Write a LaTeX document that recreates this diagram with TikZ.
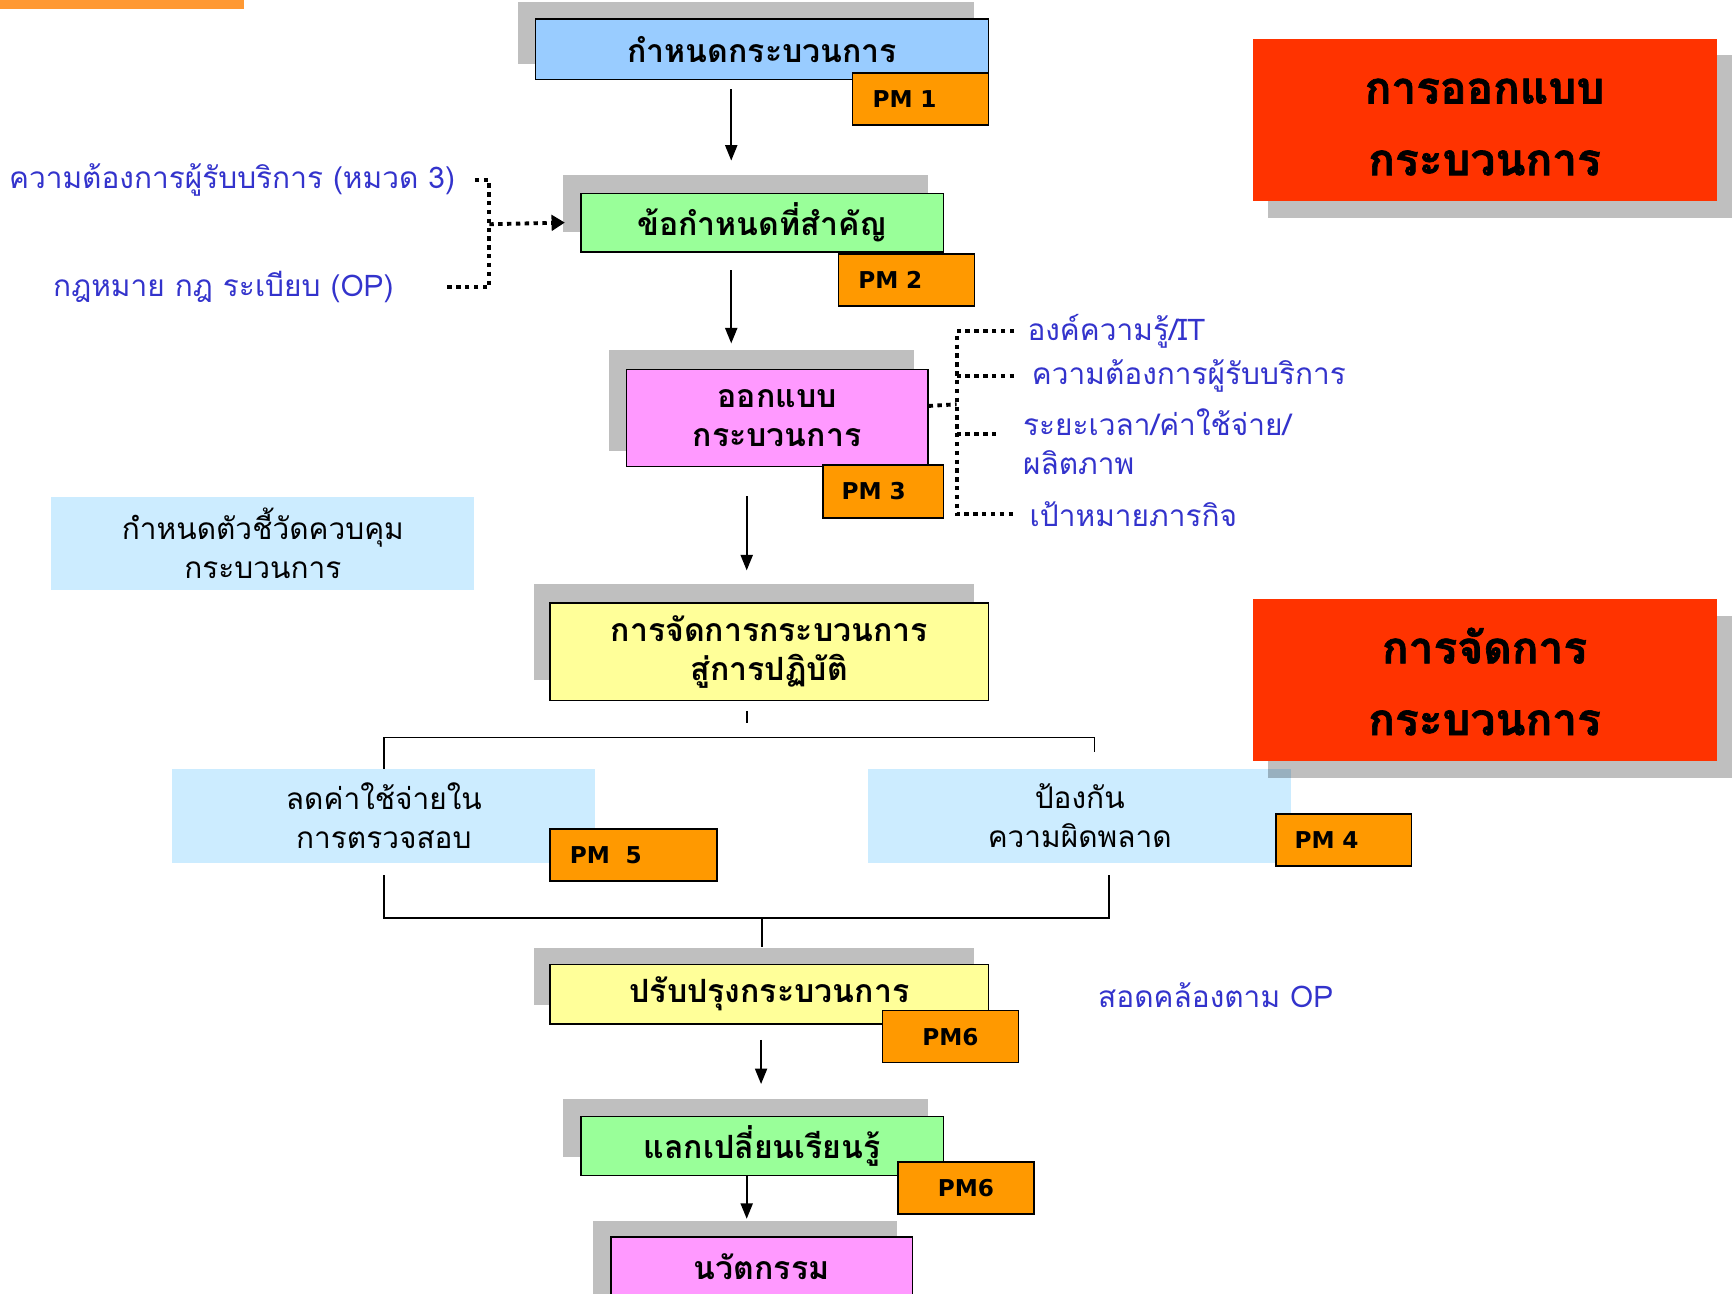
\documentclass[tikz,border=0pt]{standalone}
\usepackage{fontspec}
\usetikzlibrary{arrows.meta}
\newfontfamily\thai[Script=Thai]{Loma}
\newfontfamily\thaiheavy[Script=Thai, BoldFeatures={FakeBold=1.5}]{Loma}
\newfontfamily\pmf{DejaVu Sans}
\definecolor{pmor}{RGB}{255,153,0}
\definecolor{lblue}{RGB}{153,204,255}
\definecolor{lgreen}{RGB}{153,255,153}
\definecolor{lpink}{RGB}{255,153,255}
\definecolor{lyellow}{RGB}{255,255,153}
\definecolor{pale}{RGB}{204,236,255}
\definecolor{redb}{RGB}{255,51,0}
\definecolor{txtblue}{RGB}{51,51,204}
\definecolor{topor}{RGB}{255,153,51}
\begin{document}
\begin{tikzpicture}[x=1pt,y=-1pt,
  stepbox/.style={draw=black, line width=1.3pt, inner sep=0pt, align=center,
    font=\thai\bfseries\fontsize{29}{35}\selectfont},
  pmbox/.style={draw=black, line width=1.3pt, fill=pmor, inner ysep=0pt, inner xsep=18pt,
    text width=87pt, align=left, minimum height=47pt, font=\pmf\bfseries\fontsize{21}{25}\selectfont},
  palebox/.style={fill=pale, inner sep=0pt, align=center, minimum width=383pt, minimum height=85pt,
    font=\thai\fontsize{27}{35}\selectfont},
  redtxt/.style={inner sep=0pt, align=center,
    font=\thaiheavy\bfseries\fontsize{40}{65}\selectfont},
  bluetxt/.style={text=txtblue, inner sep=0pt, anchor=west, align=left,
    font=\thai\fontsize{27}{35}\selectfont},
  shadowfill/.style={fill=black, fill opacity=0.25},
  conn/.style={line width=1.5pt, -{Triangle[length=14pt,width=11pt]}},
  dotl/.style={line width=3.5pt, dash pattern=on 4pt off 4pt},
  brk/.style={line width=1.5pt},
]
\clip (0,0) rectangle (1568,1171);
\fill[white] (0,0) rectangle (1568,1171);
\fill[topor] (0,0) rectangle (221,8);

% ---- pale boxes (drawn first, may be under shadows)
\node[palebox] (m) at (238,492) {กำหนดตัวชี้วัดควบคุม\\กระบวนการ};
\node[palebox] (l1) at (347.5,738.5) {ลดค่าใช้จ่ายใน\\การตรวจสอบ};
\node[palebox] (r1) at (977.5,738.5) {ป้องกัน\\ความผิดพลาด};

% ---- red title boxes
\fill[shadowfill] (1148,50) rectangle (1568,197);
\fill[redb] (1134,35) rectangle (1554,182);
\node[redtxt] (rd1) at (1344,115) {การออกแบบ\\กระบวนการ};
\fill[shadowfill] (1148,558) rectangle (1568,704);
\fill[redb] (1134,542) rectangle (1554,689);
\node[redtxt] (rd2) at (1344,617) {การจัดการ\\กระบวนการ};

% ---- step boxes with shadows
\fill[shadowfill] (469,2) rectangle (882,58);
\node[stepbox, fill=lblue, minimum width=410pt, minimum height=55pt] (b1) at (690,44.5) {กำหนดกระบวนการ};
\node[pmbox] (p1) at (833.5,89.5) {PM 1};

\fill[shadowfill] (510,158) rectangle (840,210);
\node[stepbox, fill=lgreen, minimum width=328pt, minimum height=53pt] (b2) at (690,201.5) {ข้อกำหนดที่สำคัญ};
\node[pmbox] (p2) at (820.5,253.5) {PM 2};

\fill[shadowfill] (551,317) rectangle (827,408);
\node[stepbox, fill=lpink, minimum width=273pt, minimum height=88pt] (b3) at (703.5,378.5) {ออกแบบ\\กระบวนการ};
\node[pmbox, text width=75pt, inner xsep=17pt, minimum height=48pt] (p3) at (799.5,445) {PM 3};

\fill[shadowfill] (483,529) rectangle (882,616);
\node[stepbox, fill=lyellow, minimum width=397pt, minimum height=88pt] (b4) at (696.5,590) {การจัดการกระบวนการ\\สู่การปฏิบัติ};

\node[pmbox, text width=115pt] (p5) at (573.5,774) {PM\ \ 5};
\node[pmbox, inner xsep=17pt, text width=89pt] (p4) at (1216.5,760.5) {PM 4};

\fill[shadowfill] (483,858) rectangle (882,910);
\node[stepbox, fill=lyellow, minimum width=397pt, minimum height=54pt] (b5) at (696.5,900) {ปรับปรุงกระบวนการ};
\node[pmbox, align=center] (p6a) at (860.5,938.5) {PM6};

\fill[shadowfill] (510,995) rectangle (840,1047);
\node[stepbox, fill=lgreen, minimum width=328pt, minimum height=53pt] (b6) at (690,1037.5) {แลกเปลี่ยนเรียนรู้};
\node[pmbox, align=center] (p6b) at (874.5,1075.5) {PM6};

\fill[shadowfill] (537,1105) rectangle (812,1180);
\node[stepbox, fill=lpink, minimum width=273pt, minimum height=54pt] (b7) at (689.5,1147) {นวัตกรรม};

% ---- blue side texts
\node[bluetxt] (req) at (8,163) {ความต้องการผู้รับบริการ (หมวด 3)};
\node[bluetxt] (law) at (48,260) {กฎหมาย กฎ ระเบียบ (OP)};
\node[bluetxt] (kn) at (930,300) {องค์ความรู้/IT};
\node[bluetxt] (cus) at (934,340) {ความต้องการผู้รับบริการ};
\node[bluetxt] (tm) at (926,400) {ระยะเวลา/ค่าใช้จ่าย/\\ผลิตภาพ};
\node[bluetxt] (goal) at (932,465) {เป้าหมายภารกิจ};
\node[bluetxt] (op) at (994,901) {สอดคล้องตาม OP};

% ---- main arrows
\draw[conn] ([xshift=-28pt,yshift=-8pt]b1.south) -- ([xshift=-28pt,yshift=29pt]b2.north);
\draw[conn] ([xshift=-28pt,yshift=-16pt]b2.south) -- ([xshift=-41.5pt,yshift=23pt]b3.north);
\draw[conn] ([xshift=-20.5pt,yshift=96pt]b4.north) -- ([xshift=-20.5pt,yshift=29pt]b4.north);
\draw[brk] ([xshift=-20.5pt,yshift=-9pt]b4.south) -- ([xshift=-20.5pt,yshift=-20pt]b4.south);
\draw[conn] ([xshift=-1pt,yshift=69pt]b6.north) -- ([xshift=-1pt,yshift=29pt]b6.north);
\draw[conn] ([xshift=-14pt]b6.south) -- ([xshift=-13.5pt,yshift=16pt]b7.north);

% ---- brackets
\draw[brk] (l1.north) -- ++(0,-28) -| ([xshift=13.5pt,yshift=15pt]r1.north);
\draw[brk] ([yshift=-11pt]l1.south) -- ++(0,39) -| ([xshift=26.5pt,yshift=-11pt]r1.south);
\draw[brk] ([xshift=-6.5pt,yshift=42pt]b5.north) -- ([xshift=-6.5pt,yshift=15pt]b5.north);

% ---- dotted connectors, left
\coordinate (q1) at (430,163);
\coordinate (q2) at (403,260);
\coordinate (jl) at (443,203);
\draw[dotl] (q1) -| (jl) |- (q2);
\draw[dotl, -{Triangle[length=12pt,width=14pt]}] (jl) -- ([xshift=-14pt]b2.west);

% ---- dotted connectors, right
\coordinate (jr) at (866,366);
\coordinate (t1) at (866,300);
\coordinate (t4) at (866,465);
\coordinate (e1) at (918,300);
\coordinate (e2) at (918,340);
\coordinate (e3) at (905,393);
\coordinate (e4) at (918,465);
\draw[dotl] ([yshift=11pt]b3.east) -- (jr);
\draw[dotl] (e1) -- (t1) -- (t4) -- (e4);
\draw[dotl] (jr |- e2) -- (e2);
\draw[dotl] (jr |- e3) -- (e3);
\end{tikzpicture}
\end{document}
